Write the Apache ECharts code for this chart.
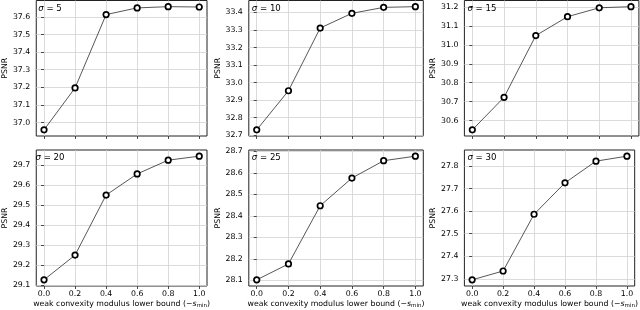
<!DOCTYPE html>
<html>
<head>
<meta charset="utf-8">
<script src="https://cdn.jsdelivr.net/npm/echarts@6/dist/echarts.min.js"></script>
<style>
html,body{margin:0;padding:0;background:#fff;}
#chart{width:640px;height:310px;}
</style>
</head>
<body>
<div id="chart"></div>
<script>
// ---- data ----
var xValues = [0.0, 0.2, 0.4, 0.6, 0.8, 1.0];
var xTicks = [0.0, 0.2, 0.4, 0.6, 0.8, 1.0];
var sigmas = [5, 10, 15, 20, 25, 30];
var psnrSigma5  = [36.959, 37.197, 37.613, 37.651, 37.658, 37.656];
var psnrSigma10 = [32.730, 32.953, 33.311, 33.395, 33.429, 33.433];
var psnrSigma15 = [30.551, 30.723, 31.049, 31.149, 31.196, 31.202];
var psnrSigma20 = [29.125, 29.249, 29.550, 29.656, 29.725, 29.745];
var psnrSigma25 = [28.102, 28.176, 28.447, 28.576, 28.657, 28.678];
var psnrSigma30 = [27.296, 27.335, 27.586, 27.725, 27.821, 27.843];
var yTicks5  = [37.0, 37.1, 37.2, 37.3, 37.4, 37.5, 37.6];
var yTicks10 = [32.7, 32.8, 32.9, 33.0, 33.1, 33.2, 33.3, 33.4];
var yTicks15 = [30.6, 30.7, 30.8, 30.9, 31.0, 31.1, 31.2];
var yTicks20 = [29.1, 29.2, 29.3, 29.4, 29.5, 29.6, 29.7];
var yTicks25 = [28.1, 28.2, 28.3, 28.4, 28.5, 28.6, 28.7];
var yTicks30 = [27.3, 27.4, 27.5, 27.6, 27.7, 27.8];
var xAxisTitle = 'weak convexity modulus lower bound (\u2212{it|s}{sub|min})';
var yAxisTitle = 'PSNR';

var panelSeries = [psnrSigma5, psnrSigma10, psnrSigma15, psnrSigma20, psnrSigma25, psnrSigma30];
var panelTicks = [yTicks5, yTicks10, yTicks15, yTicks20, yTicks25, yTicks30];

// ---- layout ----
var lefts = [32.5, 248.8, 464.4];
var tops = [0.5, 150];
var heights = [135.5, 136.5];
var W = 174.5;
var FONT = 'DejaVu Sans';

var grids = [], xAxes = [], yAxes = [], series = [], graphics = [];
for (var i = 0; i < 6; i++) {
  var r = Math.floor(i / 3), c = i % 3;
  var d = panelSeries[i];
  var lo = Math.min.apply(null, d), hi = Math.max.apply(null, d);
  var m = (hi - lo) * 0.05;
  grids.push({left: lefts[c], top: tops[r], width: W, height: heights[r],
    show: true, borderColor: '#222', borderWidth: 1, backgroundColor: 'transparent'});
  xAxes.push({
    type: 'value', gridIndex: i, min: -0.05, max: 1.05,
    axisLine: {show: false},
    axisTick: {show: true, length: 3, customValues: xTicks, lineStyle: {color: '#222', width: 0.8}},
    axisLabel: {show: r === 1, customValues: xTicks, margin: 4, fontSize: 7.8, fontFamily: FONT, color: '#000',
      formatter: function (v) { return v.toFixed(1); }},
    splitLine: {show: true, lineStyle: {color: '#d2d2d2', width: 0.8}},
    name: r === 1 ? xAxisTitle : '',
    nameLocation: 'middle', nameGap: 13,
    nameTextStyle: {fontSize: 7.8, fontFamily: FONT, color: '#000',
      rich: {
        it: {fontSize: 7.8, fontFamily: FONT, fontStyle: 'italic', color: '#000'},
        sub: {fontSize: 5.5, fontFamily: FONT, color: '#000', verticalAlign: 'bottom', padding: [4, 0, 0, 0]}
      }}
  });
  yAxes.push({
    type: 'value', gridIndex: i, min: lo - m, max: hi + m,
    axisLine: {show: false},
    axisTick: {show: true, length: 3, customValues: panelTicks[i], lineStyle: {color: '#222', width: 0.8}},
    axisLabel: {customValues: panelTicks[i], margin: 6, fontSize: 7.8, fontFamily: FONT, color: '#000',
      formatter: function (v) { return v.toFixed(1); }},
    splitLine: {show: true, lineStyle: {color: '#d2d2d2', width: 0.8}},
    name: yAxisTitle, nameLocation: 'middle', nameGap: 25, nameRotate: 90,
    nameTextStyle: {fontSize: 7.8, fontFamily: FONT, color: '#000'}
  });
  var pts = [];
  for (var k = 0; k < xValues.length; k++) pts.push([xValues[k], d[k]]);
  series.push({
    type: 'line', xAxisIndex: i, yAxisIndex: i, data: pts,
    symbol: 'circle', symbolSize: 5.5, showSymbol: true,
    lineStyle: {color: '#444', width: 0.9},
    itemStyle: {color: '#fff', borderColor: '#000', borderWidth: 1.7},
    emphasis: {disabled: true}, z: 3
  });
  graphics.push({
    type: 'text', x: lefts[c] + 17.5, y: tops[r] + 8, z: 10,
    style: {
      text: '{g|\u03c3} = ' + sigmas[i], align: 'center', verticalAlign: 'middle',
      fontSize: 8.6, fontFamily: FONT, fill: '#000',
      rich: {g: {fontSize: 8.6, fontFamily: FONT, fontStyle: 'italic', fill: '#000', color: '#000'}}
    }
  });
}

var chart = echarts.init(document.getElementById('chart'), null, {renderer: 'canvas'});
chart.setOption({
  animation: false,
  backgroundColor: '#fff',
  grid: grids, xAxis: xAxes, yAxis: yAxes, series: series,
  graphic: graphics
});
</script>
</body>
</html>
